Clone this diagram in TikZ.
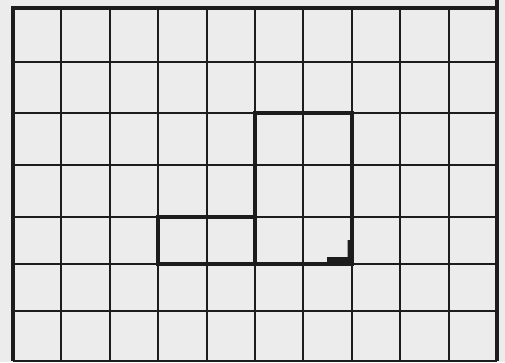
\documentclass[tikz,border=0pt]{standalone}
\usepackage{tikz}
\definecolor{paper}{RGB}{236,236,236}
\definecolor{ink}{RGB}{28,28,28}
\tikzset{
  gridline/.style={draw=ink, line width=1.9pt},
  frameline/.style={draw=ink, line width=3.2pt},
  boldrect/.style={draw=ink, line width=3.6pt},
  anglemark/.style={fill=ink, draw=none}
}
\begin{document}
\begin{tikzpicture}[x=1pt,y=-1pt]
\fill[paper] (0,0) rectangle (505,362);
\useasboundingbox (0,0) rectangle (505,362);
% vertical grid lines
\foreach \i in {1,...,9} {
  \draw[gridline] ({13+48.4*\i},8) -- ({13+48.4*\i},361);
}
% horizontal grid lines
\foreach \y in {62,113,165,217,264,311} {
  \draw[gridline] (13,\y) -- (497,\y);
}
% outer frame
\draw[frameline] (13,361) -- (13,8) -- (497,8);
\draw[frameline] (497,0) -- (497,361);
\draw[gridline] (13,361) -- (497,361);
% bold rectangles
\draw[boldrect] (158.2,217) rectangle (255,264);
\draw[boldrect] (255,113) rectangle (351.8,264);
% right-angle mark
\fill[anglemark] (327,264) -- (327,257) -- (347.5,257) -- (347.5,240) -- (352.5,240) -- (352.5,264) -- cycle;
\end{tikzpicture}
\end{document}
